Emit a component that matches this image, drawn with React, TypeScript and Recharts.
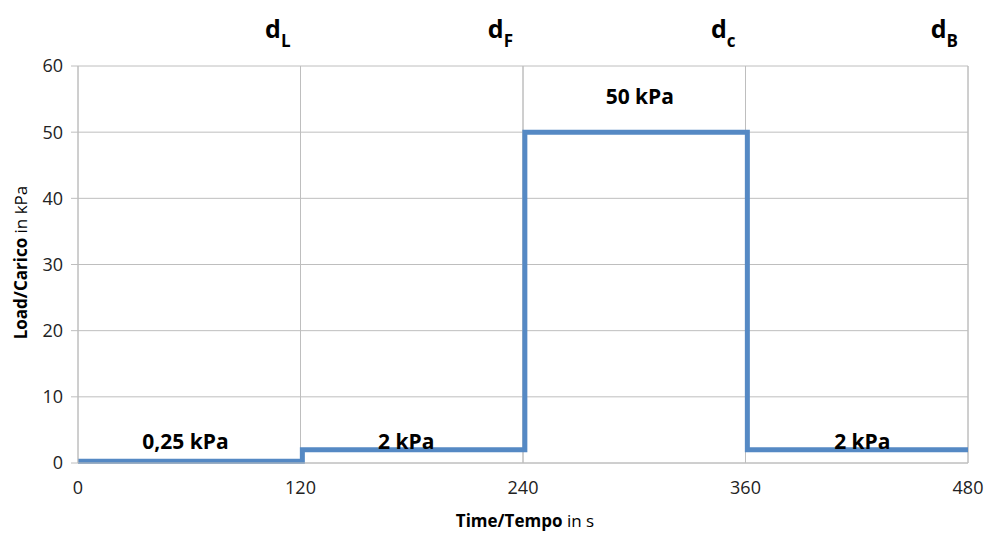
import React from "react";
import {
  ComposedChart,
  Line,
  XAxis,
  YAxis,
  CartesianGrid,
  ReferenceDot,
  ReferenceLine,
  Label,
} from "recharts";

// step profile of the load (time in s, load in kPa)
const timeValues = [0, 121, 121, 241, 241, 361, 361, 480];
const loadValues = [0.25, 0.25, 2, 2, 50, 50, 2, 2];

const xTicks = [0, 120, 240, 360, 480];
const yTicks = [0, 10, 20, 30, 40, 50, 60];

// value annotations
const noteX = [58, 177, 303, 423];
const noteY = [3.4, 3.4, 55.4, 3.4];
const noteText = ["0,25 kPa", "2 kPa", "50 kPa", "2 kPa"];

// phase markers at top
const phaseX = [120, 240, 360, 480];
const phaseSub = ["L", "F", "c", "B"];

const data = timeValues.map((t, i) => ({ t, load: loadValues[i] }));

const FONT = "'Open Sans', Lato, sans-serif";
const GRID = "#BEBEBE";
const BLUE = "#5589C4";

const NoteLabel = (text: string) => (props: any) => {
  const vb = props.viewBox || {};
  const cx = (vb.x ?? 0) + (vb.width ?? 0) / 2;
  const cy = (vb.y ?? 0) + (vb.height ?? 0) / 2;
  return (
    <text
      x={cx}
      y={cy}
      textAnchor="middle"
      dominantBaseline="central"
      fontFamily={FONT}
      fontWeight="bold"
      fontSize={21}
      fill="#000"
    >
      {text}
    </text>
  );
};

const PhaseLabel = (sub: string) => (props: any) => {
  const vb = props.viewBox || {};
  const x = (vb.x ?? 0) - 10;
  const y = (vb.y ?? 0) - 28;
  return (
    <text
      x={x}
      y={y}
      textAnchor="end"
      fontFamily={FONT}
      fontWeight="bold"
      fill="#000"
    >
      <tspan fontSize={25}>d</tspan>
      <tspan fontSize={17} dy={9}>
        {sub}
      </tspan>
    </text>
  );
};

const YTitle = (props: any) => {
  const vb = props.viewBox || {};
  const cy = (vb.y ?? 0) + (vb.height ?? 0) / 2 - 2;
  const x = 20;
  return (
    <text
      x={x}
      y={cy}
      transform={`rotate(-90, ${x}, ${cy})`}
      textAnchor="middle"
      dominantBaseline="central"
      fontFamily={FONT}
      fontSize={17}
      fill="#000"
    >
      <tspan fontWeight="bold">Load/Carico</tspan>
      <tspan> in kPa</tspan>
    </text>
  );
};

const XTitle = (props: any) => {
  const vb = props.viewBox || {};
  const cx = (vb.x ?? 0) + (vb.width ?? 0) / 2 + 2;
  return (
    <text
      x={cx}
      y={527}
      textAnchor="middle"
      fontFamily={FONT}
      fontSize={17}
      fill="#000"
    >
      <tspan fontWeight="bold">Time/Tempo</tspan>
      <tspan> in s</tspan>
    </text>
  );
};

export default function App() {
  return (
    <div style={{ position: "absolute", left: 0, top: 0, background: "#fff" }}>
      <ComposedChart
        width={984}
        height={533}
        data={data}
        margin={{ top: 66, right: 16, bottom: 40, left: 18 }}
      >
        <CartesianGrid stroke={GRID} strokeWidth={1} />
        <XAxis
          dataKey="t"
          type="number"
          domain={[0, 480]}
          ticks={xTicks}
          tickLine={false}
          axisLine={{ stroke: GRID }}
          tickMargin={12}
          height={30}
          tick={{ fontFamily: FONT, fontSize: 18, fill: "#222" }}
          interval={0}
          label={<Label content={XTitle} />}
        />
        <YAxis
          type="number"
          domain={[0, 60]}
          ticks={yTicks}
          width={60}
          tickSize={7}
          tickMargin={8}
          tickLine={{ stroke: GRID }}
          axisLine={{ stroke: GRID }}
          tick={{ fontFamily: FONT, fontSize: 18, fill: "#222" }}
          interval={0}
          label={<Label content={YTitle} />}
        />
        {phaseX.map((x, i) => (
          <ReferenceLine
            key={"p" + i}
            x={x}
            stroke={GRID}
            ifOverflow="visible"
            label={<Label content={PhaseLabel(phaseSub[i])} />}
          />
        ))}
        <Line
          type="linear"
          dataKey="load"
          stroke={BLUE}
          strokeWidth={5}
          dot={false}
          isAnimationActive={false}
          strokeLinejoin="miter"
        />
        {noteX.map((x, i) => (
          <ReferenceDot
            key={"n" + i}
            x={x}
            y={noteY[i]}
            r={0}
            fill="none"
            stroke="none"
            label={<Label content={NoteLabel(noteText[i])} />}
          />
        ))}
      </ComposedChart>
    </div>
  );
}
